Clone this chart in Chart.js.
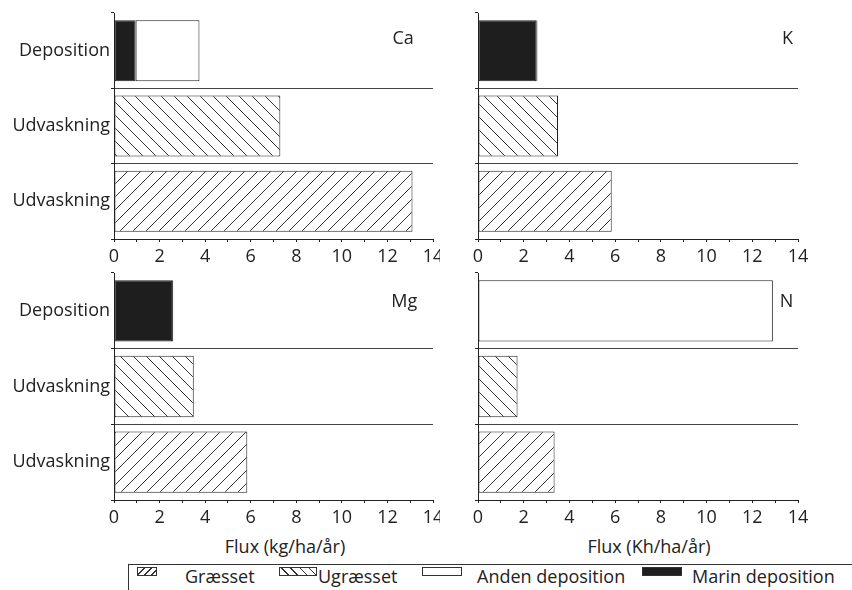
<!DOCTYPE html>
<html lang="da">
<head>
<meta charset="UTF-8">
<title>Flux</title>
<script src="https://cdn.jsdelivr.net/npm/chart.js"></script>
<style>
  * { margin: 0; padding: 0; box-sizing: border-box; }
  body { width: 852px; height: 590px; background: #fff; overflow: hidden;
         font-family: 'Open Sans', sans-serif; color: #222; position: relative; }
  .panel { position: absolute; }
  .panel canvas { display: block; }
  #p1 { left: 0; top: 0; width: 440px; height: 262px; }
  #p2 { left: 440px; top: 0; width: 412px; height: 262px; }
  #p3 { left: 0; top: 262px; width: 440px; height: 262px; }
  #p4 { left: 440px; top: 262px; width: 412px; height: 262px; }
  .xtitle { position: absolute; top: 546px; font-size: 18px; white-space: nowrap;
            transform: translate(-50%, -50%); }
  .legend { position: absolute; left: 128px; top: 564px; width: 740px; height: 40px;
            border-left: 1px solid #333; border-top: 1px solid #333; }
  .sw { position: absolute; top: 567px; height: 9px; border: 1px solid #333; background: #fff; }
  .lt { position: absolute; top: 576px; font-size: 18px; white-space: nowrap; transform: translateY(-50%); }
  .g { background: repeating-linear-gradient(135deg, #fff 0 4px, #333 4px 5px); }
  .u { background: repeating-linear-gradient(45deg, #fff 0 5.5px, #333 5.5px 6.5px); }
  .m { background: #1e1e1e; }
</style>
</head>
<body>
<div class="panel" id="p1"><canvas id="c1"></canvas></div>
<div class="panel" id="p2"><canvas id="c2"></canvas></div>
<div class="panel" id="p3"><canvas id="c3"></canvas></div>
<div class="panel" id="p4"><canvas id="c4"></canvas></div>

<div class="xtitle" style="left:285px">Flux (kg/ha/år)</div>
<div class="xtitle" style="left:649px">Flux (Kh/ha/år)</div>

<div class="legend"></div>
<div class="sw g" style="left:137px;width:20px"></div>
<div class="lt" style="left:185px">Græsset</div>
<div class="sw u" style="left:279px;width:38px"></div>
<div class="lt" style="left:318px">Ugræsset</div>
<div class="sw" style="left:422px;width:40px"></div>
<div class="lt" style="left:477px">Anden deposition</div>
<div class="sw m" style="left:642px;width:40px"></div>
<div class="lt" style="left:692px">Marin deposition</div>

<script>
// kategorier og værdier
const categories = ['Deposition', 'Udvaskning', 'Udvaskning'];
const seriesNames = ['Græsset', 'Ugræsset', 'Marin deposition', 'Anden deposition'];
const xMin = 0, xMax = 14, xStep = 1;

const caGraesset = [null, null, 13.1];
const caUgraesset = [null, 7.3, null];
const caMarin = [0.95, null, null];
const caAnden = [2.8, null, null];

const kGraesset = [null, null, 5.85];
const kUgraesset = [null, 3.5, null];
const kMarin = [2.55, null, null];
const kAnden = [0.05, null, null];

const mgGraesset = [null, null, 5.85];
const mgUgraesset = [null, 3.5, null];
const mgMarin = [2.55, null, null];
const mgAnden = [0.05, null, null];

const nGraesset = [null, null, 3.35];
const nUgraesset = [null, 1.73, null];
const nMarin = [null, null, null];
const nAnden = [12.9, null, null];

// skravering
function hatch(dir) {
  const s = 13;
  const c = document.createElement('canvas');
  c.width = s; c.height = s;
  const g = c.getContext('2d');
  g.fillStyle = '#fff';
  g.fillRect(0, 0, s, s);
  g.strokeStyle = '#333';
  g.lineWidth = 1;
  g.beginPath();
  for (const o of [-s, 0, s]) {
    if (dir === '/') { g.moveTo(o, s); g.lineTo(o + s, 0); }
    else { g.moveTo(o, 0); g.lineTo(o + s, s); }
  }
  g.stroke();
  return g.createPattern(c, 'repeat');
}

const font = { family: "'Open Sans', sans-serif", size: 18 };
Chart.defaults.color = '#222';

// panel-bogstav (Ca, K, Mg, N)
const panelLabel = {
  id: 'panelLabel',
  afterDraw(chart, args, opts) {
    const { ctx, scales } = chart;
    ctx.save();
    ctx.font = "18px 'Open Sans', sans-serif";
    ctx.fillStyle = '#222';
    ctx.textBaseline = 'middle';
    ctx.fillText(opts.text, scales.x.getPixelForValue(opts.at), scales.y.getPixelForValue(0) + opts.dy);
    ctx.restore();
  }
};

function makePanel(id, vals, o) {
  const [g, u, m, a] = vals;
  new Chart(document.getElementById(id), {
    type: 'bar',
    data: {
      labels: categories,
      datasets: [
        { label: seriesNames[0], data: g, backgroundColor: hatch('/') },
        { label: seriesNames[1], data: u, backgroundColor: hatch('\\') },
        { label: seriesNames[2], data: m, backgroundColor: '#1e1e1e' },
        { label: seriesNames[3], data: a, backgroundColor: '#fff' }
      ].map(d => Object.assign(d, { borderColor: '#222', borderWidth: 1, borderSkipped: false }))
    },
    options: {
      indexAxis: 'y',
      responsive: true,
      maintainAspectRatio: false,
      animation: false,
      barPercentage: 0.81,
      categoryPercentage: 1,
      layout: { autoPadding: false, padding: { top: o.top, right: o.right, left: 0, bottom: 0 } },
      plugins: {
        legend: { display: false },
        tooltip: { enabled: false },
        panelLabel: { text: o.label, at: o.labelAt, dy: o.labelDy }
      },
      scales: {
        x: {
          stacked: true, min: xMin, max: xMax,
          border: { color: '#222', width: 1 },
          grid: { drawOnChartArea: false, color: '#222', tickLength: 3 },
          ticks: {
            stepSize: xStep, autoSkip: false, maxRotation: 0, font: font, padding: 4,
            callback: v => (v % 2 === 0 ? v : '')
          },
          afterFit: s => { s.height = o.xh; s.paddingLeft = 0; s.paddingRight = 0; }
        },
        y: {
          stacked: true,
          border: { color: '#222', width: 1 },
          grid: {
            offset: true, tickLength: 3, tickColor: '#222',
            color: c => (c.index === 0 ? 'rgba(0,0,0,0)' : '#444')
          },
          ticks: { display: o.showCats, font: font, padding: 1, color: '#222' },
          afterFit: s => { s.width = o.yw; s.paddingTop = 0; s.paddingBottom = 0; }
        }
      }
    },
    plugins: [panelLabel]
  });
}

makePanel('c1', [caGraesset, caUgraesset, caMarin, caAnden],
  { top: 13, right: 7, yw: 114, xh: 23, showCats: true, label: 'Ca', labelAt: 12.22, labelDy: -12 });
makePanel('c2', [kGraesset, kUgraesset, kMarin, kAnden],
  { top: 13, right: 54, yw: 38, xh: 23, showCats: false, label: 'K', labelAt: 13.3, labelDy: -12 });
makePanel('c3', [mgGraesset, mgUgraesset, mgMarin, mgAnden],
  { top: 11, right: 7, yw: 114, xh: 24, showCats: true, label: 'Mg', labelAt: 12.17, labelDy: -9 });
makePanel('c4', [nGraesset, nUgraesset, nMarin, nAnden],
  { top: 11, right: 54, yw: 38, xh: 24, showCats: false, label: 'N', labelAt: 13.2, labelDy: -9 });
</script>
</body>
</html>
